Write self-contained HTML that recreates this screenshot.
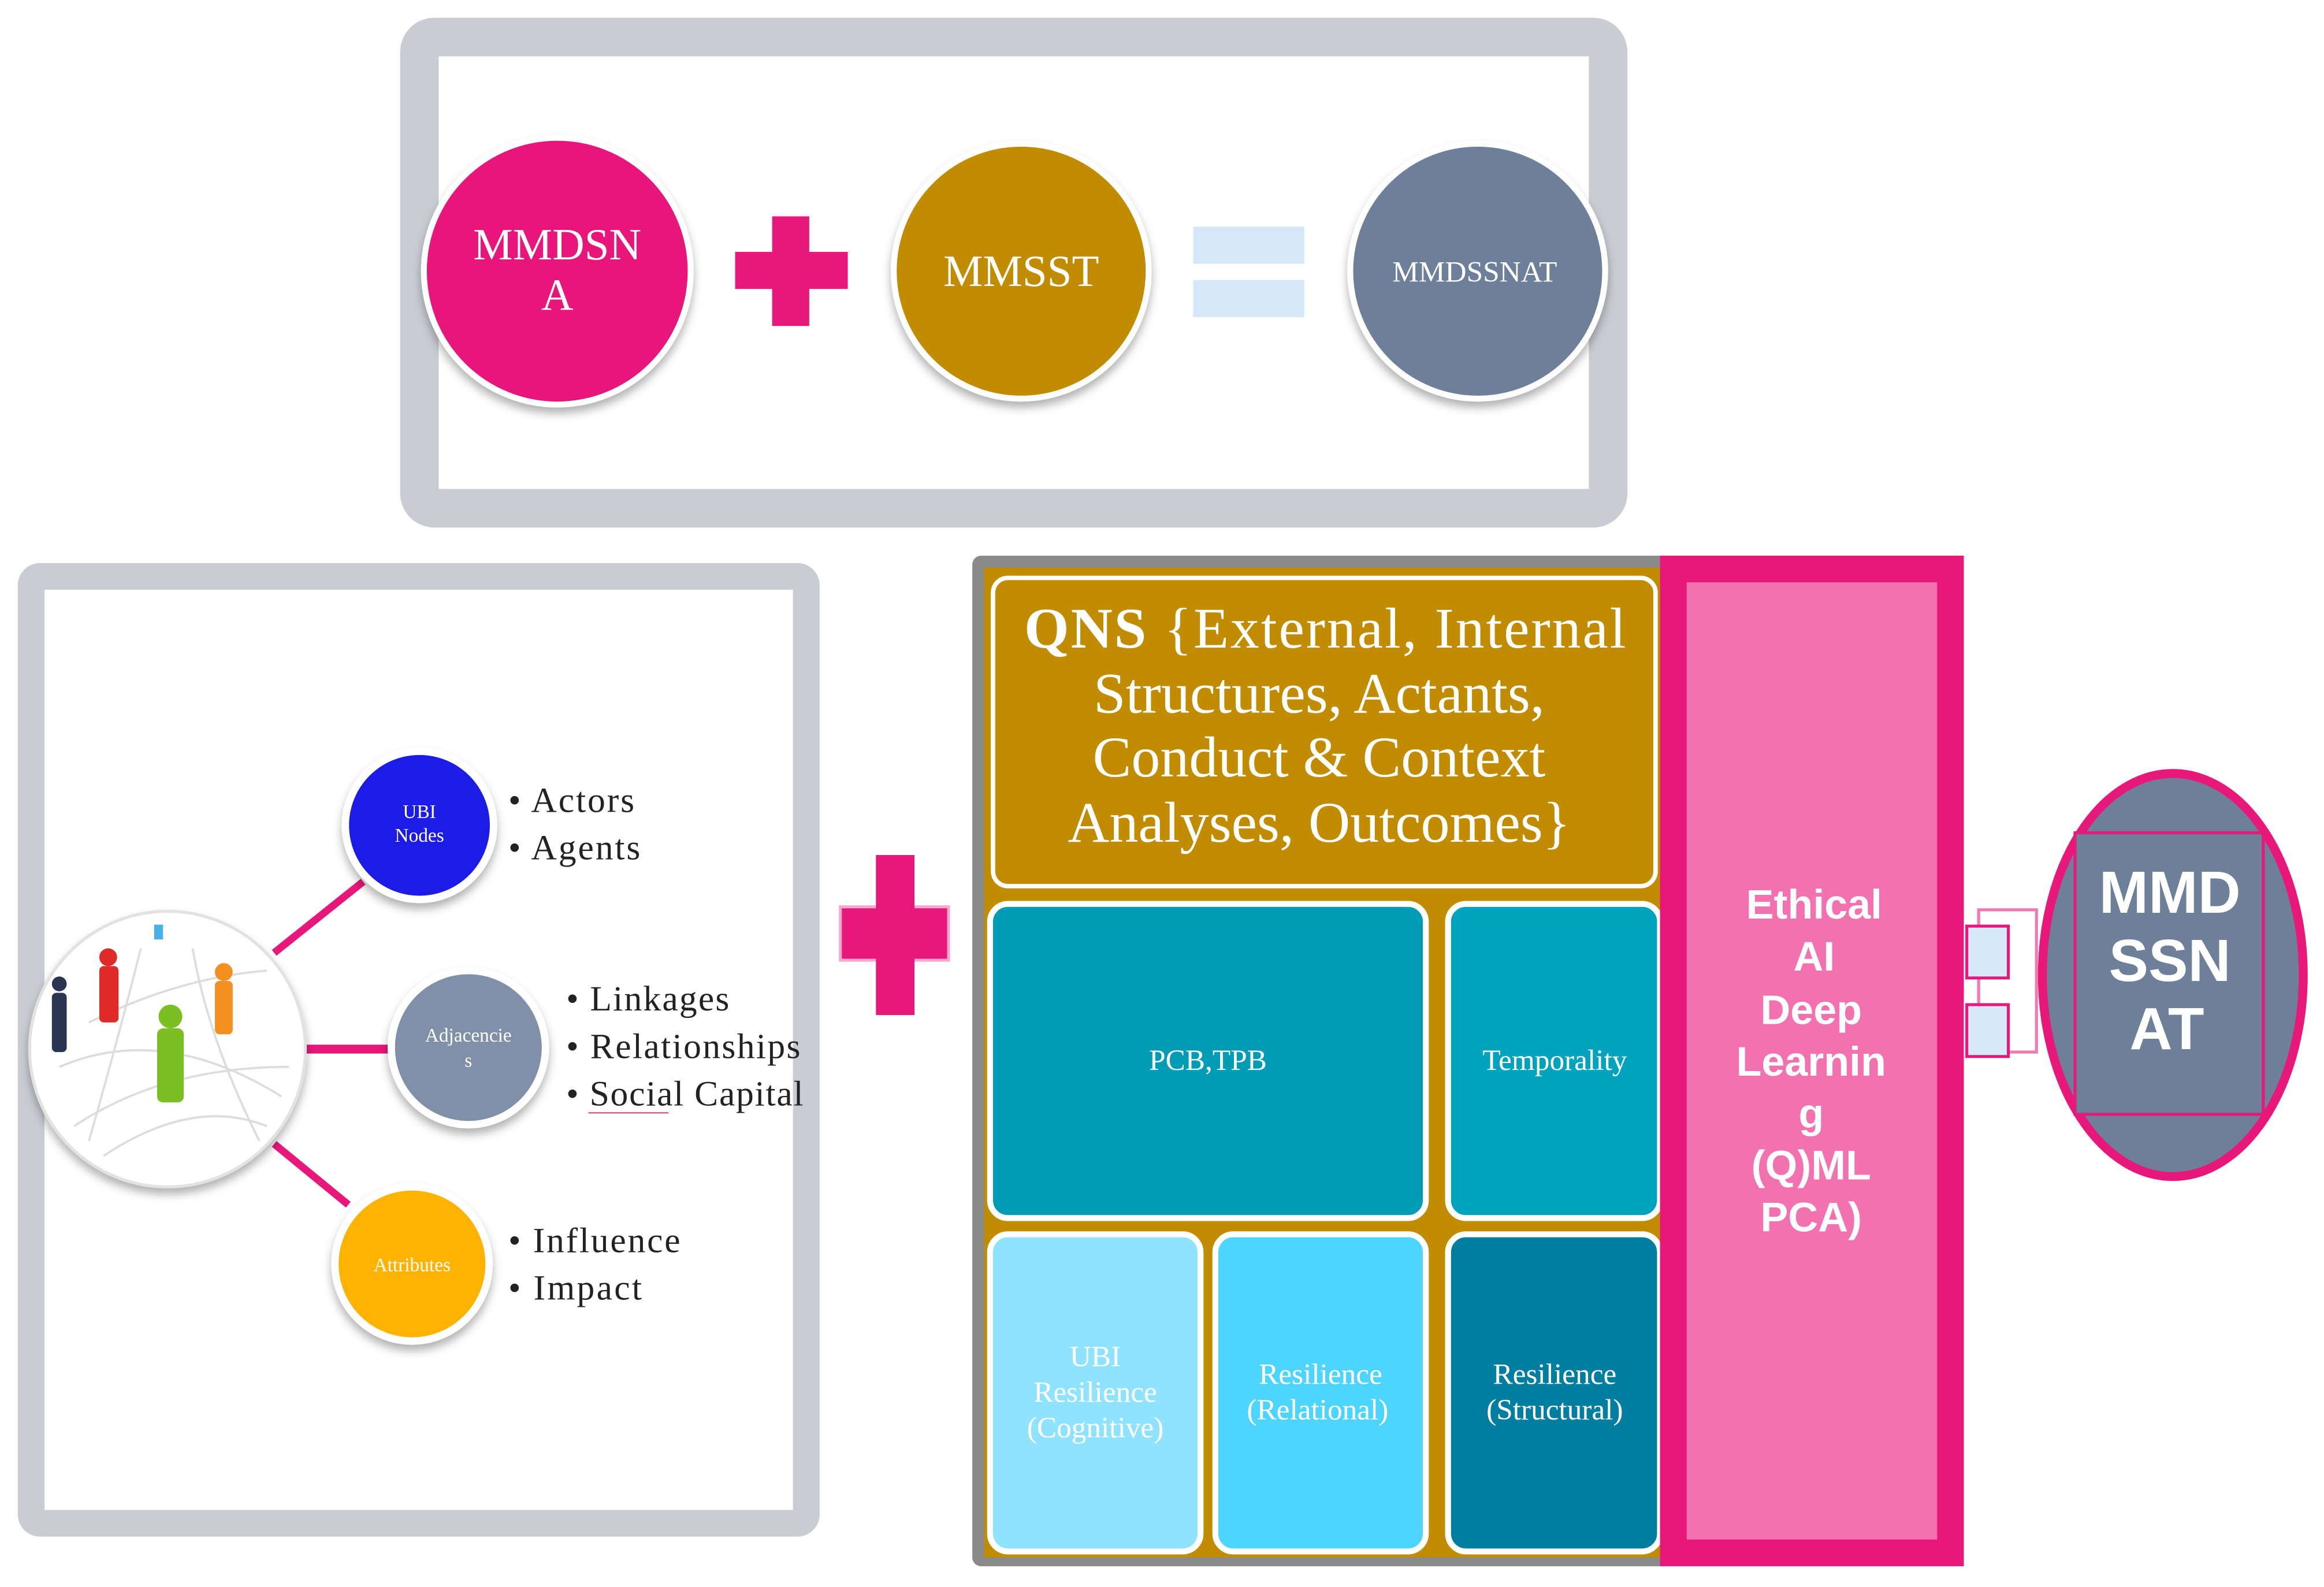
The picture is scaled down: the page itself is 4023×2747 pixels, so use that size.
<!DOCTYPE html>
<html><head><meta charset="utf-8"><style>html,body{margin:0;padding:0;background:#fff}svg{display:block}</style></head>
<body>
<svg width="4023" height="2747" viewBox="0 0 1568 1071" preserveAspectRatio="none" xmlns="http://www.w3.org/2000/svg">
<defs>
<filter id="sh" x="-30%" y="-30%" width="160%" height="160%"><feDropShadow dx="0" dy="4" stdDeviation="3" flood-color="#000" flood-opacity="0.3"/></filter>
</defs>
<rect width="1568" height="1071" fill="#fff"/>
<rect x="283" y="25" width="802" height="318" rx="10" fill="#fff" stroke="#C9CCD3" stroke-width="26"/>
<circle cx="376" cy="183" r="90" fill="#E8177A" stroke="#fff" stroke-width="4" filter="url(#sh)"/>
<text x="376" y="175" font-family="Liberation Serif,serif" font-size="30" fill="#fff" text-anchor="middle">MMDSN</text>
<text x="376" y="209" font-family="Liberation Serif,serif" font-size="30" fill="#fff" text-anchor="middle">A</text>
<rect x="496" y="170" width="76" height="25" fill="#E8177A"/>
<rect x="521" y="146" width="25" height="74" fill="#E8177A"/>
<circle cx="689" cy="183" r="86" fill="#C18C00" stroke="#fff" stroke-width="4" filter="url(#sh)"/>
<text x="689" y="193" font-family="Liberation Serif,serif" font-size="30" fill="#fff" text-anchor="middle">MMSST</text>
<rect x="805" y="153" width="75" height="25" fill="#D5E8F8"/>
<rect x="805" y="189" width="75" height="25" fill="#D5E8F8"/>
<circle cx="997" cy="183" r="86" fill="#6E7F99" stroke="#fff" stroke-width="4" filter="url(#sh)"/>
<text x="995" y="190" font-family="Liberation Serif,serif" font-size="20" fill="#fff" text-anchor="middle">MMDSSNAT</text>
<rect x="21" y="389" width="523" height="639" rx="6" fill="#fff" stroke="#C9CCD3" stroke-width="18"/>
<line x1="185" y1="643" x2="245" y2="595" stroke="#E8177A" stroke-width="5"/>
<line x1="205" y1="708" x2="262" y2="708" stroke="#E8177A" stroke-width="6"/>
<line x1="185" y1="772" x2="235" y2="813" stroke="#E8177A" stroke-width="5"/>
<circle cx="113" cy="708" r="93" fill="#fff" stroke="#e2e2e2" stroke-width="2" filter="url(#sh)"/>
<g stroke="#ddd" stroke-width="1.5" fill="none">
<path d="M40 720 Q110 690 190 740"/><path d="M50 760 Q110 720 195 720"/><path d="M60 690 Q120 660 180 655"/><path d="M70 780 Q130 740 180 760"/><path d="M95 640 Q80 700 60 770"/><path d="M130 640 Q140 700 175 770"/>
</g>
<g>
<rect x="35" y="670" width="10" height="40" rx="3" fill="#2B3450"/><circle cx="40" cy="664" r="5" fill="#2B3450"/>
<rect x="67" y="652" width="13" height="38" rx="3" fill="#E02A2A"/><circle cx="73" cy="646" r="6" fill="#E02A2A"/>
<rect x="104" y="624" width="6" height="10" fill="#4AB0E8"/>
<rect x="145" y="662" width="12" height="36" rx="3" fill="#F39020"/><circle cx="151" cy="656" r="6" fill="#F39020"/>
<rect x="106" y="694" width="18" height="50" rx="4" fill="#7CBF22"/><circle cx="115" cy="686" r="8" fill="#7CBF22"/>
</g>
<circle cx="283" cy="557" r="50" fill="#1A1AE6" stroke="#fff" stroke-width="5" filter="url(#sh)"/>
<text x="283" y="552" font-family="Liberation Serif,serif" font-size="13" fill="#fff" text-anchor="middle">UBI</text>
<text x="283" y="568" font-family="Liberation Serif,serif" font-size="13" fill="#fff" text-anchor="middle">Nodes</text>
<circle cx="316" cy="707" r="52" fill="#8090A8" stroke="#fff" stroke-width="5" filter="url(#sh)"/>
<text x="316" y="703" font-family="Liberation Serif,serif" font-size="13" fill="#fff" text-anchor="middle">Adjacencie</text>
<text x="316" y="720" font-family="Liberation Serif,serif" font-size="13" fill="#fff" text-anchor="middle">s</text>
<circle cx="278" cy="853" r="52" fill="#FFB300" stroke="#fff" stroke-width="5" filter="url(#sh)"/>
<text x="278" y="858" font-family="Liberation Serif,serif" font-size="13" fill="#fff" text-anchor="middle">Attributes</text>
<g font-family="Liberation Serif,serif" font-size="24" fill="#222">
<text x="343" y="548" textLength="85">• Actors</text><text x="343" y="580" textLength="89">• Agents</text>
<text x="382" y="682" textLength="110">• Linkages</text><text x="382" y="714" textLength="158">• Relationships</text><text x="382" y="746" textLength="160">• Social Capital</text>
<text x="343" y="845" textLength="116">• Influence</text><text x="343" y="877" textLength="90">• Impact</text>
</g>
<line x1="397" y1="751" x2="451" y2="751" stroke="#E06080" stroke-width="1"/>
<rect x="567" y="612" width="73" height="36" fill="#E8177A" stroke="#F7A8CF" stroke-width="2"/>
<rect x="591" y="577" width="26" height="108" fill="#E8177A"/>
<rect x="656" y="375" width="470" height="682" rx="6" fill="#8A8A8A"/>
<rect x="664" y="383" width="456" height="668" fill="#C18C00"/>
<rect x="670" y="390" width="447" height="208" rx="10" fill="#C18C00" stroke="#fff" stroke-width="3"/>
<g font-family="Liberation Serif,serif" font-size="39" fill="#fff" text-anchor="middle">
<text x="894" y="437" textLength="406"><tspan font-weight="bold">QNS</tspan> {External, Internal</text>
<text x="890" y="481">Structures, Actants,</text>
<text x="890" y="524">Conduct &amp; Context</text>
<text x="890" y="568">Analyses, Outcomes}</text>
</g>
<rect x="668" y="610" width="294" height="212" rx="12" fill="#009BB5" stroke="#fff" stroke-width="4"/>
<rect x="977" y="610" width="143" height="212" rx="12" fill="#00A3BD" stroke="#fff" stroke-width="4"/>
<rect x="668" y="833" width="142" height="214" rx="12" fill="#8FE3FF" stroke="#fff" stroke-width="4"/>
<rect x="820" y="833" width="142" height="214" rx="12" fill="#4DD5FF" stroke="#fff" stroke-width="4"/>
<rect x="977" y="833" width="143" height="214" rx="12" fill="#007E9F" stroke="#fff" stroke-width="4"/>
<g font-family="Liberation Serif,serif" font-size="20" fill="#fff" text-anchor="middle">
<text x="815" y="722">PCB,TPB</text>
<text x="1049" y="722">Temporality</text>
<text x="739" y="922">UBI</text><text x="739" y="946">Resilience</text><text x="739" y="970">(Cognitive)</text>
<text x="891" y="934">Resilience</text><text x="889" y="958">(Relational)</text>
<text x="1049" y="934">Resilience</text><text x="1049" y="958">(Structural)</text>
</g>
<rect x="1129" y="384" width="187" height="664" fill="#F272AF" stroke="#E8177A" stroke-width="18"/>
<g font-family="Liberation Sans,sans-serif" font-size="28" font-weight="bold" fill="#fff" text-anchor="middle">
<text x="1224" y="620">Ethical</text><text x="1224" y="655">AI</text><text x="1222" y="691">Deep</text>
<text x="1222" y="726">Learnin</text><text x="1222" y="761">g</text><text x="1222" y="796">(Q)ML</text><text x="1222" y="831">PCA)</text>
</g>
<rect x="1335" y="614" width="39" height="96" fill="none" stroke="#F07AB0" stroke-width="2"/>
<rect x="1327" y="625" width="28" height="35" fill="#D5E8F8" stroke="#E8177A" stroke-width="2"/>
<rect x="1327" y="678" width="28" height="35" fill="#D5E8F8" stroke="#E8177A" stroke-width="2"/>
<ellipse cx="1466" cy="658" rx="88" ry="136" fill="#6E7F99" stroke="#E8177A" stroke-width="6"/>
<rect x="1400" y="562" width="127" height="190" fill="#6E7F99" stroke="#E8177A" stroke-width="2"/>
<g font-family="Liberation Sans,sans-serif" font-size="40" font-weight="bold" fill="#fff" text-anchor="middle">
<text x="1464" y="616">MMD</text><text x="1464" y="662">SSN</text><text x="1462" y="708">AT</text>
</g>
</svg>
</body></html>
